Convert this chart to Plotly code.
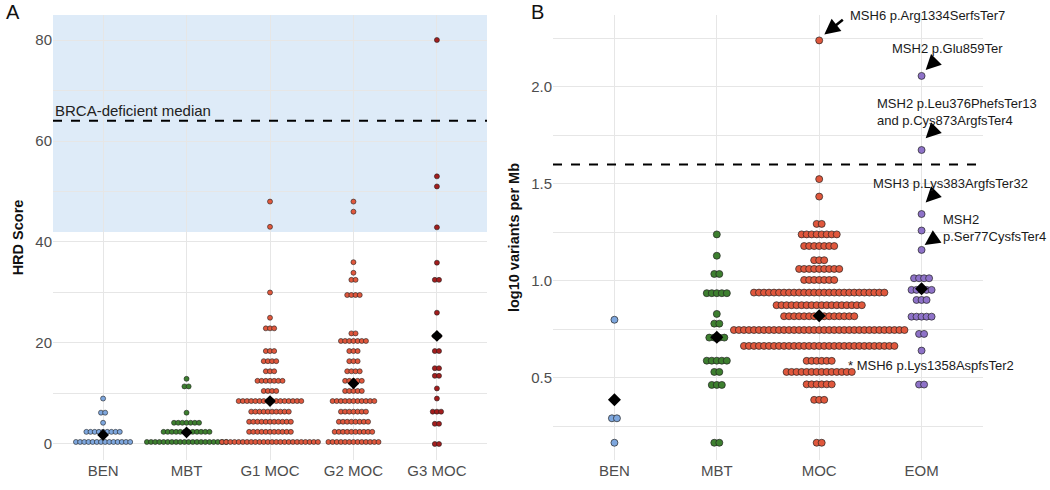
import plotly.graph_objects as go

# ---------------- Panel A data (HRD score) ----------------
A_categories = ["BEN", "MBT", "G1 MOC", "G2 MOC", "G3 MOC"]
A_BEN_vals = [0.4, 2.4, 4.2, 6.2, 9.0]
A_BEN_counts = [14, 9, 1, 2, 1]
A_MBT_vals = [0.4, 2.4, 4.2, 6.2, 11.4, 12.9]
A_MBT_counts = [20, 12, 7, 1, 2, 1]
A_G1_vals = [0.4, 2.4, 4.4, 6.4, 8.5, 10.5, 12.5, 14.4, 16.4, 18.4, 22.9, 25, 30, 43, 48]
A_G1_counts = [24, 11, 11, 10, 16, 4, 7, 3, 4, 3, 3, 1, 1, 1, 1]
A_G2_vals = [0.4, 2.4, 4.4, 6.4, 8.5, 10.5, 12.5, 14.4, 16.4, 18.4, 20.4, 21.9, 29.5, 32.5, 33.9, 36, 46, 48]
A_G2_counts = [13, 10, 8, 7, 11, 5, 5, 4, 3, 3, 7, 2, 4, 2, 1, 1, 1, 1]
A_G3_vals = [0, 4, 6.4, 9, 11, 13.5, 15, 18.4, 21.4, 26, 32.5, 35.9, 42.9, 51, 53, 80]
A_G3_counts = [2, 2, 3, 1, 1, 2, 2, 2, 2, 1, 2, 1, 1, 1, 1, 1]
A_means = [1.8, 2.3, 8.5, 12.0, 21.4]
A_colors = ["#7ea7de", "#3d7f2f", "#e0573c", "#e0573c", "#a31d1d"]
A_shade_from = 42
A_brca_median = 64

# ---------------- Panel B data (log10 variants per Mb) ----------------
B_categories = ["BEN", "MBT", "MOC", "EOM"]
B_BEN_vals = [0.166, 0.292, 0.80]
B_BEN_counts = [1, 2, 1]
B_MBT_vals = [0.166, 0.464, 0.531, 0.589, 0.708, 0.78, 0.83, 0.937, 1.036, 1.13, 1.24]
B_MBT_counts = [2, 3, 2, 5, 4, 2, 1, 5, 2, 1, 1]
B_MOC_vals = [0.166, 0.387, 0.467, 0.531, 0.588, 0.665, 0.747, 0.818, 0.875, 0.94,
              1.005, 1.062, 1.107, 1.18, 1.24, 1.294, 1.435, 1.525, 2.24]
B_MOC_counts = [2, 3, 6, 14, 6, 31, 35, 15, 18, 27, 7, 9, 3, 7, 8, 2, 1, 1, 1]
B_EOM_vals = [0.466, 0.641, 0.727, 0.816, 0.902, 0.954, 1.014, 1.16, 1.26, 1.345, 1.675, 2.057]
B_EOM_counts = [2, 1, 2, 5, 3, 5, 4, 1, 1, 1, 1, 1]
B_means = [0.387, 0.71, 0.82, 0.96]
B_colors = ["#7ea7de", "#3d7f2f", "#e0573c", "#8e72c8"]
B_threshold = 1.6

A_groups = [(A_BEN_vals, A_BEN_counts), (A_MBT_vals, A_MBT_counts), (A_G1_vals, A_G1_counts),
            (A_G2_vals, A_G2_counts), (A_G3_vals, A_G3_counts)]
B_groups = [(B_BEN_vals, B_BEN_counts), (B_MBT_vals, B_MBT_counts),
            (B_MOC_vals, B_MOC_counts), (B_EOM_vals, B_EOM_counts)]

FONT = "Liberation Sans, Arial, sans-serif"
TICK = "#4d4d4d"
GRID = "#e6e6e6"


def swarm(center, vals, counts, pitch):
    xs, ys = [], []
    for v, n in zip(vals, counts):
        for i in range(n):
            xs.append(center + (i - (n - 1) / 2) * pitch)
            ys.append(v)
    return xs, ys


fig = go.Figure()

# Panel A
for k, ((vals, counts), col) in enumerate(zip(A_groups, A_colors)):
    xs, ys = swarm(k + 1, vals, counts, 0.05)
    fig.add_trace(go.Scatter(x=xs, y=ys, mode="markers", xaxis="x", yaxis="y",
                             marker=dict(size=5, color=col, line=dict(color="#222", width=0.6)),
                             showlegend=False, hoverinfo="skip"))
fig.add_trace(go.Scatter(x=list(range(1, len(A_categories) + 1)), y=A_means, mode="markers",
                         xaxis="x", yaxis="y",
                         marker=dict(symbol="diamond", size=9, color="black"),
                         showlegend=False, hoverinfo="skip"))

# Panel B
for k, ((vals, counts), col) in enumerate(zip(B_groups, B_colors)):
    xs, ys = swarm(k + 1, vals, counts, 0.049)
    fig.add_trace(go.Scatter(x=xs, y=ys, mode="markers", xaxis="x2", yaxis="y2",
                             marker=dict(size=7, color=col, line=dict(color="#222", width=0.7)),
                             showlegend=False, hoverinfo="skip"))
fig.add_trace(go.Scatter(x=list(range(1, len(B_categories) + 1)), y=B_means, mode="markers",
                         xaxis="x2", yaxis="y2",
                         marker=dict(symbol="diamond", size=10, color="black"),
                         showlegend=False, hoverinfo="skip"))

# shapes
fig.add_shape(type="rect", xref="x domain", yref="y", x0=0, x1=1, y0=A_shade_from, y1=85,
              fillcolor="rgba(190,215,242,0.5)", line=dict(width=0), layer="below")
fig.add_shape(type="line", xref="x domain", yref="y", x0=0, x1=1, y0=A_brca_median, y1=A_brca_median,
              line=dict(color="black", width=2, dash="dash"))
fig.add_shape(type="line", xref="x2 domain", yref="y2", x0=0, x1=1, y0=B_threshold, y1=B_threshold,
              line=dict(color="black", width=2, dash="dash"))

ydom = [30 / 490, 475 / 490]
fig.update_layout(
    width=1050, height=490,
    margin=dict(l=0, r=0, t=0, b=0),
    paper_bgcolor="white", plot_bgcolor="white",
    font=dict(family=FONT, color="#222"),
    xaxis=dict(domain=[53 / 1050, 487 / 1050], range=[0.4, 5.6],
               tickvals=list(range(1, 6)), ticktext=A_categories,
               showgrid=True, gridcolor=GRID, gridwidth=1, zeroline=False,
               tickfont=dict(size=15, color=TICK), ticks="", showline=False, anchor="y"),
    yaxis=dict(domain=ydom, range=[-3.17, 84.95],
               tickvals=[0, 20, 40, 60, 80], showgrid=True, gridcolor=GRID, gridwidth=1,
               minor=dict(tickvals=[10, 30, 50, 70], showgrid=True, gridcolor=GRID, gridwidth=0.7),
               zeroline=False, tickfont=dict(size=15, color=TICK), ticks="", anchor="x",
               title=dict(text="<b>HRD Score</b>", font=dict(size=14.5, color="#111"), standoff=8)),
    xaxis2=dict(domain=[553 / 1050, 983 / 1050], range=[0.4, 4.6],
                tickvals=list(range(1, 5)), ticktext=B_categories,
                showgrid=True, gridcolor=GRID, gridwidth=1, zeroline=False,
                tickfont=dict(size=15, color=TICK), ticks="", showline=False, anchor="y2"),
    yaxis2=dict(domain=ydom, range=[0.077, 2.371],
                tickvals=[0.5, 1.0, 1.5, 2.0], ticktext=["0.5", "1.0", "1.5", "2.0"],
                showgrid=True, gridcolor=GRID, gridwidth=1,
                minor=dict(tickvals=[0.25, 0.75, 1.25, 1.75, 2.25], showgrid=True, gridcolor=GRID, gridwidth=0.7),
                zeroline=False, tickfont=dict(size=15, color=TICK), ticks="", anchor="x2",
                title=dict(text="<b>log10 variants per Mb</b>", font=dict(size=14.5, color="#111"), standoff=8)),
)

anns = [
    dict(text="A", x=13 / 1050, y=1 - 12 / 490, xref="paper", yref="paper", showarrow=False,
         font=dict(size=20, color="#111"), xanchor="center", yanchor="middle"),
    dict(text="B", x=537 / 1050, y=1 - 12 / 490, xref="paper", yref="paper", showarrow=False,
         font=dict(size=20, color="#111"), xanchor="center", yanchor="middle"),
    dict(text="BRCA-deficient median", x=0, y=A_brca_median, xref="x domain", yref="y",
         showarrow=False, xanchor="left", yanchor="bottom", yshift=0,
         font=dict(size=15, color="#222")),
]

# arrow annotations on panel B (pointing at EOM / MOC outliers)
arrow_style = dict(showarrow=True, arrowhead=2, arrowcolor="black", xref="x2", yref="y2", text="")
anns.append(dict(x=3.05, y=B_MOC_vals[-1] + 0.03, ax=20, ay=-16, arrowsize=1.2, arrowwidth=2.6, **arrow_style))
anns.append(dict(x=4.04, y=B_EOM_vals[-1] + 0.03, ax=11, ay=-11, arrowsize=1.9, arrowwidth=1.6, **arrow_style))
anns.append(dict(x=4.04, y=B_EOM_vals[-2] + 0.06, ax=11, ay=-11, arrowsize=1.9, arrowwidth=1.6, **arrow_style))
anns.append(dict(x=4.04, y=B_EOM_vals[-3] + 0.06, ax=11, ay=-11, arrowsize=1.9, arrowwidth=1.6, **arrow_style))
anns.append(dict(x=4.03, y=B_EOM_vals[-5] + 0.025, ax=13, ay=-9, arrowsize=1.9, arrowwidth=1.6, **arrow_style))

labels = [
    ("MSH6 p.Arg1334SerfsTer7", 848, 16),
    ("MSH2 p.Glu859Ter", 890, 49),
    ("MSH2 p.Leu376PhefsTer13<br>and p.Cys873ArgfsTer4", 875, 112),
    ("MSH3 p.Lys383ArgfsTer32", 871, 183),
    ("MSH2<br>p.Ser77CysfsTer4", 941, 228),
    ("* MSH6 p.Lys1358AspfsTer2", 846, 365),
]
for t, px, py in labels:
    anns.append(dict(text=t, x=px / 1050, y=1 - py / 490, xref="paper", yref="paper",
                     showarrow=False, xanchor="left", yanchor="middle", align="left",
                     font=dict(size=13, color="#1a1a1a")))

fig.update_layout(annotations=anns)
fig.write_html("out.html", config={"displayModeBar": False},
               post_script="document.body.style.margin='0';")
